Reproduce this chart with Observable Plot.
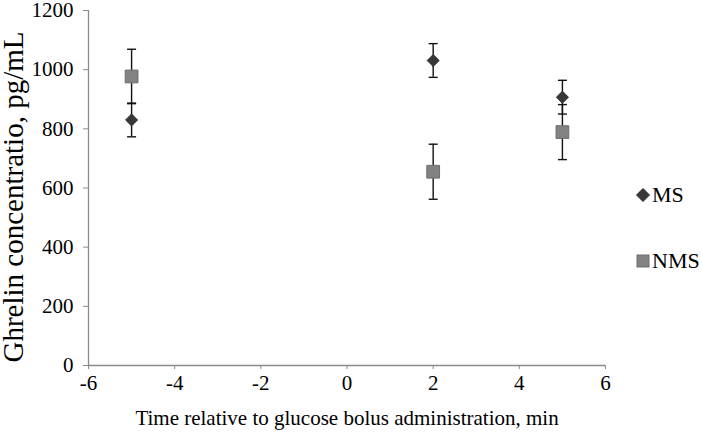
<!DOCTYPE html>
<html><head><meta charset="utf-8">
<script src="https://cdn.jsdelivr.net/npm/d3@7"></script>
<script src="https://cdn.jsdelivr.net/npm/@observablehq/plot@0.6"></script>
<style>
body{margin:0;background:#fff;font-family:'Liberation Serif',serif;}
#wrap{position:relative;width:702px;height:432px;font-family:'Liberation Serif',serif;}
#wrap svg, #wrap svg text{font-family:'Liberation Serif',serif !important;}
.item{position:absolute;height:26px;display:flex;align-items:center;font-size:22px;color:#000;line-height:26px;font-family:'Liberation Serif',serif;}
.item svg{margin-right:1px;}
</style></head><body><div id="wrap"></div>
<script>
// data
const times = [-5, 2, 5];
const seriesNames = ["MS", "NMS"];
const msMean = [830, 1031, 907];
const msErr = [57, 57, 57];
const nmsMean = [977, 655, 789];
const nmsErr = [92, 93, 93];
const xTicks = [-6, -4, -2, 0, 2, 4, 6];
const yTicks = [0, 200, 400, 600, 800, 1000, 1200];
const xTitle = "Time relative to glucose bolus administration, min";
const yTitle = "Ghrelin concentratio, pg/mL";

const rows = [];
times.forEach((t, i) => {
  rows.push({series: "MS", time: t, mean: msMean[i], err: msErr[i]});
  rows.push({series: "NMS", time: t, mean: nmsMean[i], err: nmsErr[i]});
});
const ms = rows.filter(d => d.series === "MS");
const nms = rows.filter(d => d.series === "NMS");

const cap = {draw(ctx) { ctx.moveTo(-4.5, 0); ctx.lineTo(4.5, 0); }};
const axisColor = "#8a8a8a";
const font = "Liberation Serif";

const chart = Plot.plot({
  width: 702,
  height: 432,
  marginLeft: 88,
  marginRight: 97,
  marginTop: 10,
  marginBottom: 67,
  style: {fontFamily: font, fontSize: "21px", color: "#000", background: "#fff"},
  x: {domain: [-6, 6]},
  y: {domain: [0, 1200]},
  marks: [
    Plot.ruleY([0], {stroke: axisColor, strokeWidth: 1.3}),
    Plot.ruleX([-6], {stroke: axisColor, strokeWidth: 1.3}),
    // tick marks only (labels drawn separately below)
    Plot.axisX({ticks: xTicks, tickSize: 4, stroke: axisColor, tickFormat: () => "", label: null}),
    Plot.axisY({ticks: yTicks, tickSize: 5, stroke: axisColor, tickFormat: () => "", label: null}),
    // tick labels
    Plot.text(xTicks, {x: d => d, frameAnchor: "bottom", lineAnchor: "top", dy: 10,
      text: d => d < 0 ? "-" + Math.abs(d) : String(d), fontSize: 21, fontFamily: font, fill: "#000"}),
    Plot.text(yTicks, {y: d => d, frameAnchor: "left", textAnchor: "end", dx: -15,
      text: d => String(d), fontSize: 21, fontFamily: font, fill: "#000"}),
    // axis titles
    Plot.text([xTitle], {text: d => d, frameAnchor: "bottom", textAnchor: "middle", lineAnchor: "bottom", dy: 59, fontSize: 21, fontFamily: font, fill: "#000"}),
    Plot.text([yTitle], {text: d => d, frameAnchor: "left", textAnchor: "middle", rotate: -90, dx: -75, dy: 9, fontSize: 29, fontFamily: font, fill: "#000"}),
    // error bars and points
    Plot.ruleX(rows, {x: "time", y1: d => d.mean - d.err, y2: d => d.mean + d.err, stroke: "#111", strokeWidth: 1.4}),
    Plot.dot(rows, {x: "time", y: d => d.mean - d.err, symbol: cap, stroke: "#111", strokeWidth: 1.4, fill: "none"}),
    Plot.dot(rows, {x: "time", y: d => d.mean + d.err, symbol: cap, stroke: "#111", strokeWidth: 1.4, fill: "none"}),
    Plot.dot(nms, {x: "time", y: "mean", symbol: "square", r: 7.2, fill: "#828282", stroke: "#6e6e6e", strokeWidth: 1}),
    Plot.dot(ms, {x: "time", y: "mean", symbol: "diamond2", r: 5.4, fill: "#383838", stroke: "#2a2a2a", strokeWidth: 1})
  ]
});
const wrap = document.getElementById("wrap");
wrap.appendChild(chart);

// legend
const legendPos = {MS: {left: 635, top: 182}, NMS: {left: 635, top: 248}};
const legendSym = {
  MS: '<svg width="16" height="16"><path d="M8,1.5L14.5,8L8,14.5L1.5,8Z" fill="#383838" stroke="#2a2a2a"/></svg>',
  NMS: '<svg width="16" height="16"><rect x="2" y="2" width="12" height="12" fill="#828282" stroke="#6e6e6e"/></svg>'
};
seriesNames.forEach(name => {
  const el = document.createElement("div");
  el.className = "item";
  el.style.left = legendPos[name].left + "px";
  el.style.top = legendPos[name].top + "px";
  el.innerHTML = legendSym[name] + "<span>" + name + "</span>";
  wrap.appendChild(el);
});
</script></body></html>
